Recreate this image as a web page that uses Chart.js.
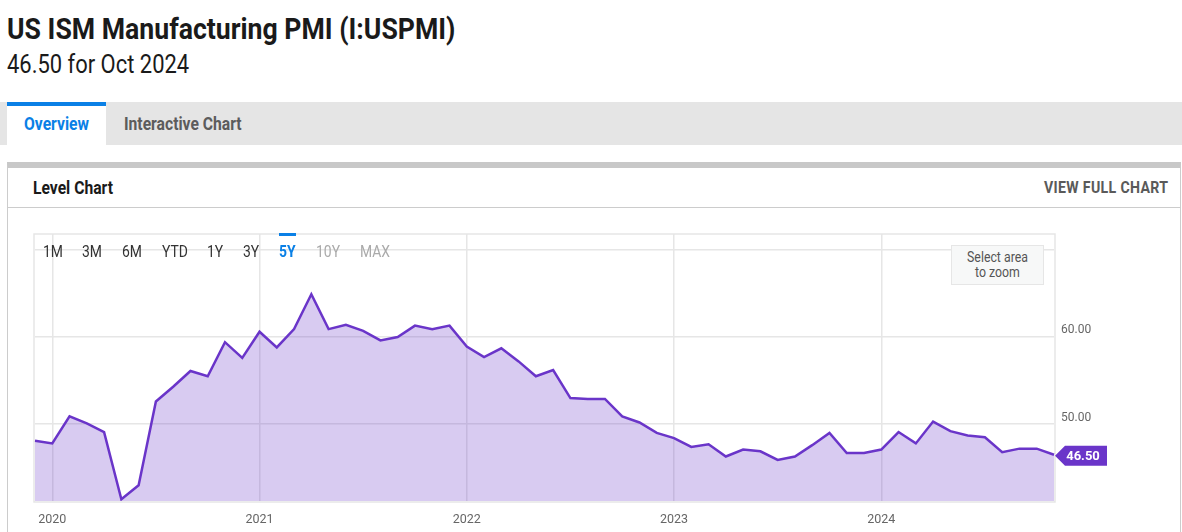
<!DOCTYPE html>
<html lang="en">
<head>
    <meta charset="UTF-8">
    <title>US ISM Manufacturing PMI (I:USPMI)</title>
    <script src="https://cdn.jsdelivr.net/npm/chart.js"></script>
    <style>
        html, body { margin: 0; padding: 0; background: #fff; overflow: hidden; }
        body { width: 1182px; height: 532px; position: relative; font-family: Roboto, sans-serif; color: #1a1a1a; }
        .abs { position: absolute; white-space: nowrap; transform-origin: left center; }
        .narrow { transform: scaleX(0.87); }
        #title { left: 7px; top: 12px; font-size: 30px; line-height: 34px; font-weight: 700; transform: scaleX(0.888); }
        #subtitle { left: 7px; top: 51px; font-size: 25px; line-height: 28px; font-weight: 400; transform: scaleX(0.878); }
        #tabbar { left: 0; top: 102px; width: 1182px; height: 43px; background: #e5e5e5; }
        #tab-active { left: 7px; top: 102px; width: 99px; height: 39px; background: #fff; border-top: 4px solid #0a80e6; }
        #tab1 { left: 24px; top: 114px; font-size: 18px; line-height: 20px; font-weight: 700; color: #0a80e6; }
        #tab2 { left: 124px; top: 114px; font-size: 18px; line-height: 20px; font-weight: 700; color: #5c5c5c; }
        #card { left: 7px; top: 162px; width: 1174px; height: 370px; border-left: 1px solid #ccc; border-right: 1px solid #ccc; border-top: 6px solid #c8c8c8; box-sizing: border-box; }
        #card-rule { left: 8px; top: 207px; width: 1172px; height: 1px; background: #ccc; }
        #card-title { left: 33px; top: 178px; font-size: 18px; line-height: 20px; font-weight: 700; }
        #full { right: 14px; top: 178px; font-size: 16.5px; line-height: 20px; font-weight: 700; color: #5a5a5a; letter-spacing: .4px; transform-origin: right center; transform: scaleX(0.856); }
        #wrap { left: 20px; top: 225px; width: 1120px; height: 307px; }
        .rng { top: 243px; font-size: 16px; line-height: 18px; color: #333; }
        .rng.on { color: #0a80e6; font-weight: 700; }
        .rng.off { color: #aaa; }
        #rng-bar { left: 279px; top: 233px; width: 17px; height: 3px; background: #0a80e6; }
        #zoombox { left: 951px; top: 245px; width: 93px; height: 40px; box-sizing: border-box; background: #f7f8f8; border: 1px solid #e6e6e6; }
        #zoomtxt { left: 951px; top: 250px; width: 93px; text-align: center; font-size: 14px; line-height: 15px; color: #555; white-space: normal; transform-origin: center center; transform: scaleX(0.88); }
    </style>
</head>
<body>
<div class="abs" id="title">US ISM Manufacturing PMI (I:USPMI)</div>
<div class="abs" id="subtitle">46.50 for Oct 2024</div>
<div class="abs" id="tabbar"></div>
<div class="abs" id="tab-active"></div>
<div class="abs narrow" id="tab1">Overview</div>
<div class="abs narrow" id="tab2">Interactive Chart</div>
<div class="abs" id="card"></div>
<div class="abs" id="card-rule"></div>
<div class="abs narrow" id="card-title">Level Chart</div>
<div class="abs" id="full">VIEW FULL CHART</div>
<div class="abs" id="wrap"><canvas id="pmiChart"></canvas></div>
<div class="abs" id="rng-bar"></div>
<div id="ranges"></div>
<div class="abs" id="zoombox"></div>
<div class="abs" id="zoomtxt">Select area<br>to zoom</div>

<script>
    const months = [
        '2019-11', '2019-12',
        '2020-01', '2020-02', '2020-03', '2020-04', '2020-05', '2020-06', '2020-07', '2020-08', '2020-09', '2020-10', '2020-11', '2020-12',
        '2021-01', '2021-02', '2021-03', '2021-04', '2021-05', '2021-06', '2021-07', '2021-08', '2021-09', '2021-10', '2021-11', '2021-12',
        '2022-01', '2022-02', '2022-03', '2022-04', '2022-05', '2022-06', '2022-07', '2022-08', '2022-09', '2022-10', '2022-11', '2022-12',
        '2023-01', '2023-02', '2023-03', '2023-04', '2023-05', '2023-06', '2023-07', '2023-08', '2023-09', '2023-10', '2023-11', '2023-12',
        '2024-01', '2024-02', '2024-03', '2024-04', '2024-05', '2024-06', '2024-07', '2024-08', '2024-09', '2024-10'
    ];
    const pmiValues = [
        48.1, 47.8,
        50.9, 50.1, 49.1, 41.4, 43.0, 52.6, 54.3, 56.1, 55.5, 59.4, 57.6, 60.6,
        58.8, 60.9, 64.9, 60.9, 61.4, 60.7, 59.6, 60.0, 61.3, 60.9, 61.3, 58.9,
        57.7, 58.7, 57.2, 55.5, 56.2, 53.0, 52.9, 52.9, 50.9, 50.2, 49.0, 48.4,
        47.4, 47.7, 46.3, 47.1, 46.9, 45.9, 46.3, 47.6, 49.0, 46.7, 46.7, 47.1,
        49.1, 47.8, 50.3, 49.2, 48.7, 48.5, 46.8, 47.2, 47.2, 46.5
    ];
    // month-end points sit on the first of the next month, so the year ticks land on December
    const yearTickMonths = ['2019-12', '2020-12', '2021-12', '2022-12', '2023-12'];
    const yearTickLabels = ['2020', '2021', '2022', '2023', '2024'];
    const yTicks = [50, 60, 70];
    const yTickLabels = ['50.00', '60.00', ''];
    const rangeLabels = ['1M', '3M', '6M', 'YTD', '1Y', '3Y', '5Y', '10Y', 'MAX'];
    const rangeLefts = [43, 82, 122, 162, 207, 243, 279, 316, 360];

    rangeLabels.forEach((label, i) => {
        const el = document.createElement('div');
        el.className = 'abs narrow rng' + (label === '5Y' ? ' on' : (i > 6 ? ' off' : ''));
        el.style.left = rangeLefts[i] + 'px';
        el.textContent = label;
        document.getElementById('ranges').appendChild(el);
    });

    const purple = '#6a35c9';
    const gridColor = '#e6e6e6';

    // box around the plot area
    const frame = {
        id: 'frame',
        beforeDatasetsDraw(chart) {
            const a = chart.chartArea, c = chart.ctx;
            c.save();
            c.strokeStyle = gridColor;
            c.lineWidth = 1.5;
            c.strokeRect(a.left - 1, a.top, a.right - a.left + 2, a.bottom - a.top + 1);
            c.restore();
        }
    };

    // flag with the latest value, pointing at the last point
    const lastFlag = {
        id: 'lastFlag',
        afterDraw(chart) {
            const pt = chart.getDatasetMeta(0).data[pmiValues.length - 1];
            const c = chart.ctx, x = pt.x + 1, y = pt.y + 1;
            c.save();
            c.fillStyle = purple;
            c.beginPath();
            c.moveTo(x, y);
            c.lineTo(x + 10, y - 10);
            c.lineTo(x + 52, y - 10);
            c.lineTo(x + 52, y + 10);
            c.lineTo(x + 10, y + 10);
            c.closePath();
            c.fill();
            c.fillStyle = '#fff';
            c.font = 'bold 13px Roboto';
            c.textAlign = 'center';
            c.textBaseline = 'middle';
            c.fillText(pmiValues[pmiValues.length - 1].toFixed(2), x + 28, y + 0.5);
            c.restore();
        }
    };

    new Chart(document.getElementById('pmiChart').getContext('2d'), {
        type: 'line',
        data: {
            labels: months,
            datasets: [{
                data: pmiValues,
                borderColor: purple,
                borderWidth: 2.5,
                backgroundColor: 'rgba(106, 53, 201, 0.26)',
                fill: 'start',
                pointRadius: 0,
                tension: 0
            }]
        },
        plugins: [frame, lastFlag],
        options: {
            responsive: true,
            maintainAspectRatio: false,
            animation: false,
            layout: { padding: { left: 15, top: 9, right: 0, bottom: 0 } },
            plugins: { legend: { display: false }, tooltip: { enabled: false } },
            scales: {
                x: {
                    type: 'category',
                    offset: false,
                    afterBuildTicks: axis => {
                        axis.ticks = yearTickMonths.map(m => ({ value: months.indexOf(m) }));
                    },
                    afterFit: axis => { axis.height = 31; },
                    grid: { color: gridColor, lineWidth: 1.5, drawTicks: false },
                    border: { display: false },
                    ticks: {
                        autoSkip: false,
                        maxRotation: 0,
                        padding: 11,
                        color: '#666',
                        font: { family: 'Roboto', size: 12.5 },
                        callback: value => yearTickLabels[yearTickMonths.indexOf(months[value])]
                    }
                },
                y: {
                    position: 'right',
                    min: 41.2,
                    max: 71.8,
                    afterBuildTicks: axis => {
                        axis.ticks = yTicks.map(v => ({ value: v }));
                    },
                    afterFit: axis => {
                        axis.width = 86;
                        axis.paddingTop = 0;
                        axis.paddingBottom = 0;
                    },
                    grid: { color: gridColor, lineWidth: 1.5, drawTicks: false },
                    border: { display: false },
                    ticks: {
                        padding: 7,
                        color: '#666',
                        font: { family: 'Roboto', size: 12, lineHeight: 1.1 },
                        // blank second line lifts the label above its grid line
                        callback: value => [yTickLabels[yTicks.indexOf(value)], '']
                    }
                }
            }
        }
    });
</script>
</body>
</html>
